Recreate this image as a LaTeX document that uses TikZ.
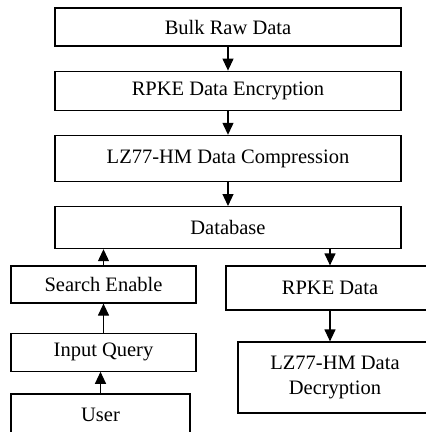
\documentclass[tikz,border=0pt]{standalone}
\usepackage{fontspec}
\setmainfont{Liberation Serif}
\usepackage{tikz}
\usetikzlibrary{positioning}
\usetikzlibrary{arrows.meta}

\begin{document}
\begin{tikzpicture}
		[x=1pt, y=1pt,
		box/.style={rectangle, draw=black, line width=1.2pt, inner sep=0pt, align=center,
			font=\fontsize{20.5}{25}\selectfont},
		wide/.style={box, minimum width=346pt},
		flow/.style={-{Triangle[length=12pt,width=11pt]}, line width=1.2pt}]
		\useasboundingbox (0,0) rectangle (426,-432);
		\node[wide, minimum height=38pt] (bulk) at (228,-27) {Bulk Raw Data};
		\node[wide, minimum height=39pt, below=24pt of bulk] (enc) {RPKE Data Encryption};
		\node[wide, minimum height=46pt, below=24pt of enc] (comp) {LZ77-HM Data Compression};
		\node[wide, minimum height=42pt, below=24pt of comp] (db) {Database};
		\node[box, minimum width=185pt, minimum height=37pt] (search) at (103.5,-284.5) {Search Enable};
		\node[box, minimum width=185pt, minimum height=38pt, below=29pt of search] (query) {Input Query};
		\node[box, minimum width=179pt, minimum height=42pt] (user) at (100.5,-415) {User};
		\node[box, minimum width=208pt, minimum height=44pt] (rpke) at (330,-288) {RPKE Data};
		\node[box, minimum width=194pt, minimum height=71pt] (dec) at (335,-377.5) {LZ77-HM Data\\Decryption};

		\draw[flow] (bulk) -- (enc);
		\draw[flow] (enc) -- (comp);
		\draw[flow] (comp) -- (db);
		\draw[flow] (search.north) -- (search.north |- db.south);
		\draw[flow] (query) -- (search);
		\draw[flow] (user.north) -- (user.north |- query.south);
		\draw[flow] (rpke.north |- db.south) -- (rpke.north);
		\draw[flow] (rpke.south) -- (rpke.south |- dec.north);
	\end{tikzpicture}
\end{document}
